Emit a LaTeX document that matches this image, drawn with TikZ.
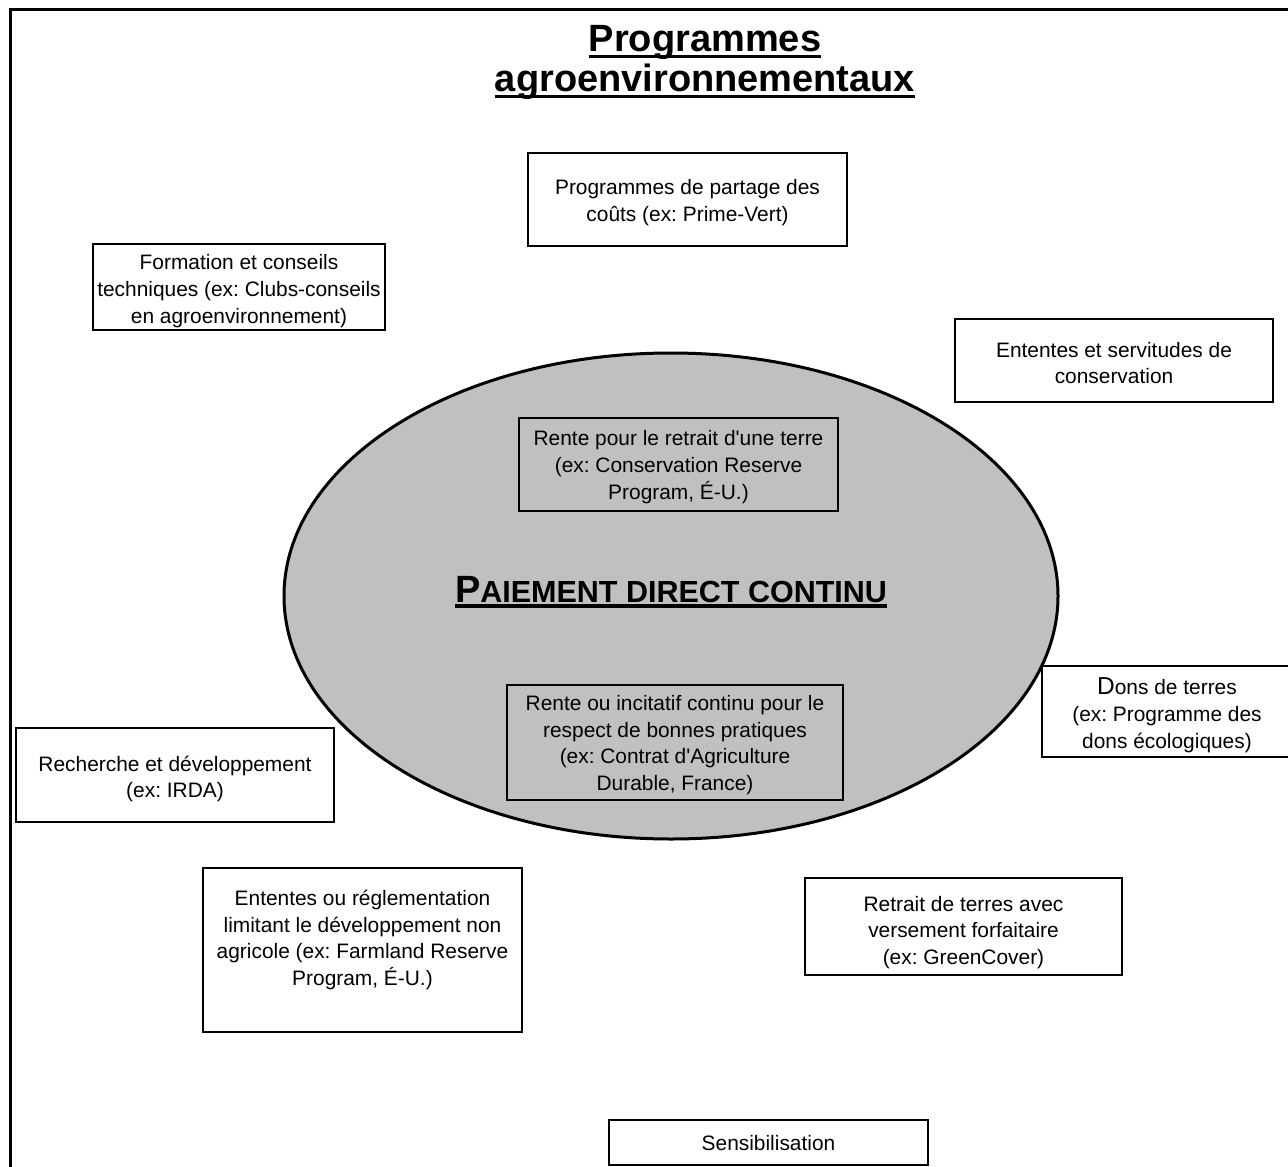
\documentclass[tikz,border=0pt]{standalone}
\usepackage{fontspec}
\setmainfont{Liberation Sans}[Ligatures=TeXOff]
\usetikzlibrary{shapes.geometric}
\frenchspacing

\begin{document}
\begin{tikzpicture}[x=1pt,y=-1pt,
  frame/.style={draw=black, line width=1.4pt, fill=white, inner sep=0pt},
  greyframe/.style={frame, fill=paygrey},
  boxtext/.style={align=center, inner sep=0pt, font=\fontsize{20.9}{26.8}\selectfont},
  titletext/.style={inner sep=0pt, anchor=base, font=\fontsize{38}{40}\selectfont\bfseries},
  rulestyle/.style={line width=3pt}]
\definecolor{paygrey}{HTML}{C0C0C0}

\useasboundingbox (0,0) rectangle (1288,1167);
\clip (0,0) rectangle (1288,1167);
\fill[white] (0,0) rectangle (1288,1167);

% frame: top and left edges only
\draw[line width=3pt] (10,1170) -- (10,9) -- (1292,9);

% title
\node[titletext] (t1) at (705,51) {Programmes};
\node[titletext] (t2) at (705,91) {agroenvironnementaux};
\draw[rulestyle] ([yshift=-5pt]t1.base west) -- ([yshift=-5pt]t1.base east);
\draw[rulestyle] ([yshift=-5pt]t2.base west) -- ([yshift=-5pt]t2.base east);

% central ellipse
\node[ellipse, draw=black, line width=3pt, fill=paygrey, inner sep=0pt,
      minimum width=774, minimum height=486] (paiement) at (671,596) {};

\node[inner sep=0pt, anchor=base, font=\bfseries] (paitext) at (671,602)
  {\fontsize{38}{40}\selectfont P\fontsize{30.5}{40}\selectfont AIEMENT DIRECT CONTINU};
\draw[line width=3.5pt] ([yshift=-4pt]paitext.base west) -- ([yshift=-4pt]paitext.base east);

% boxes inside the ellipse
\node[greyframe, minimum width=319, minimum height=93] (rente) at (678.5,464.5) {};
\node[boxtext] (rentetext) at (678.5,467)
  {Rente pour le retrait d'une terre\\(ex: Conservation Reserve\\Program, É-U.)};
\node[greyframe, minimum width=336, minimum height=115] (incitatif) at (675,742.5) {};
\node[boxtext] (incitatiftext) at (675,745)
  {Rente ou incitatif continu pour le\\respect de bonnes pratiques\\(ex: Contrat d'Agriculture\\Durable, France)};

% surrounding boxes
\node[frame, minimum width=319, minimum height=93] (partage) at (687.5,199.5) {};
\node[boxtext] (partagetext) at (687.5,202.5)
  {Programmes de partage des\\coûts (ex: Prime-Vert)};

\node[frame, minimum width=292, minimum height=86] (formation) at (239,287) {};
\node[boxtext] (formationtext) at (239,291)
  {Formation et conseils\\techniques (ex: Clubs-conseils\\en agroenvironnement)};

\node[frame, minimum width=318, minimum height=83] (servitudes) at (1114,360.5) {};
\node[boxtext] (servitudestext) at (1114,363)
  {Ententes et servitudes de\\conservation};

\node[frame, minimum width=250, minimum height=91] (dons) at (1167,711.5) {};
\node[boxtext] (donstext) at (1167,715)
  {{\fontsize{24.5}{26.8}\selectfont D}ons de terres\\(ex: Programme des\\dons écologiques)};

\node[frame, minimum width=318, minimum height=94] (recherche) at (175,775) {};
\node[boxtext] (recherchetext) at (175,779)
  {Recherche et développement\\(ex: IRDA)};

\node[frame, minimum width=319, minimum height=164] (reglement) at (362.5,950) {};
\node[boxtext] (reglementtext) at (362.5,940)
  {Ententes ou réglementation\\limitant le développement non\\agricole (ex: Farmland Reserve\\Program, É-U.)};

\node[frame, minimum width=317, minimum height=97] (retrait) at (963.5,926.5) {};
\node[boxtext] (retraittext) at (963.5,932.5)
  {Retrait de terres avec\\versement forfaitaire\\(ex: GreenCover)};

\node[frame, minimum width=319, minimum height=45] (sensib) at (768.5,1142.5) {};
\node[boxtext] (sensibtext) at (768.5,1143.5) {Sensibilisation};
\end{tikzpicture}
\end{document}
